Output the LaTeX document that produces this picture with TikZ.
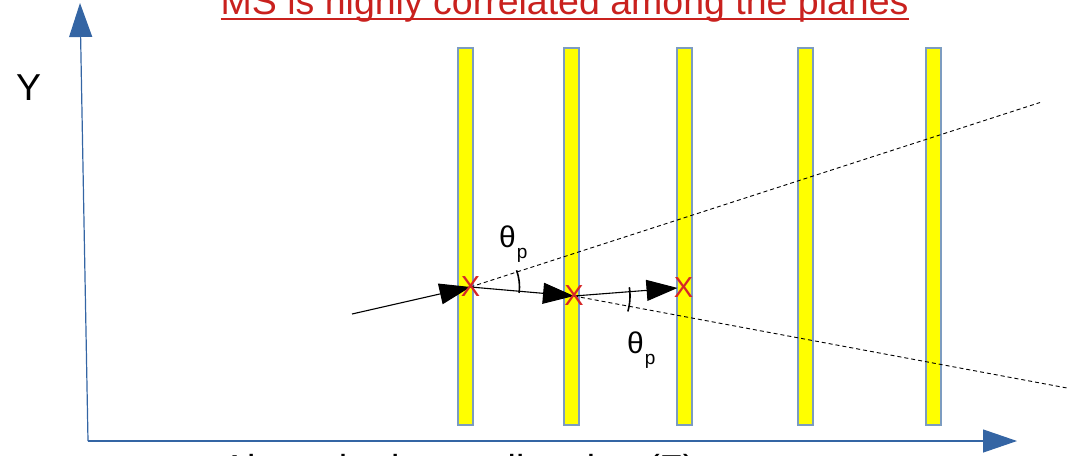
\documentclass[tikz,border=0pt]{standalone}
\usepackage{fontspec}
\setmainfont{Liberation Sans}
\usetikzlibrary{arrows.meta}
\definecolor{axisblue}{HTML}{3465A4}
\definecolor{titlered}{HTML}{C9211E}
\definecolor{planeedge}{HTML}{7C9CC0}
\definecolor{planefill}{HTML}{FFFF00}
\definecolor{hitred}{HTML}{D62728}
\begin{document}
\begin{tikzpicture}[x=1pt,y=-1pt,
  plane/.style={draw=planeedge, fill=planefill, line width=1.1pt,
    minimum width=15pt, minimum height=377pt, inner sep=0pt, outer sep=0pt},
  axisline/.style={draw=axisblue, line width=1.2pt,
    -{Triangle[length=34pt,width=23pt]}},
  track/.style={draw=black, line width=1.1pt},
  trackarrow/.style={track, -{Triangle[length=31pt,width=21pt]}},
  extline/.style={draw=black, line width=0.9pt, dash pattern=on 4pt off 3pt},
  anglearc/.style={draw=black, line width=1.6pt},
  hit/.style={text=hitred, inner sep=0pt, font=\fontsize{29}{30}\selectfont},
  bigtext/.style={inner sep=0pt, anchor=base west, font=\fontsize{37.5}{40}\selectfont},
  anglelabel/.style={inner sep=0pt, anchor=base west, font=\fontsize{30}{32}\selectfont}
]
\useasboundingbox (0,0) rectangle (1067,455);

% title
\node[bigtext, text=titlered] (title) at (220.5,14) {MS is highly correlated among the planes};
\draw[titlered, line width=2.6pt] ([yshift=-4.8pt]title.base west) -- ([yshift=-4.8pt]title.base east);

% axes
\coordinate (O) at (88,441);
\coordinate (Ytip) at (80,3);
\coordinate (Xtip) at (1017,441);
\draw[axisline] (O) -- (Ytip);
\draw[axisline] (O) -- (Xtip);
\node[bigtext] (ylabel) at (16,100) {Y};
\node[bigtext] (xlabel) at (222,481) {Along the beam direction (Z)};

% planes
\node[plane] (P1) at (465.5,236.5) {};
\node[plane] (P2) at (571.5,236.5) {};
\node[plane] (P3) at (684.5,236.5) {};
\node[plane] (P4) at (805.5,236.5) {};
\node[plane] (P5) at (933.5,236.5) {};

% track points
\coordinate (start) at (352,314);
\coordinate (h1) at (470.5,287);
\coordinate (h2) at (574,296);
\coordinate (h3) at (683.5,287.5);
\coordinate (up) at (1040,102.5);
\coordinate (down) at (1067,388);

% extrapolations
\draw[extline] (h1) -- (up);
\draw[extline] (h2) -- (down);

% track
\draw[trackarrow] (start) -- (h1);
\draw[trackarrow] (h1) -- (h2);
\draw[trackarrow, shorten >=6pt] (h2) -- (h3);

% angle arcs
\draw[anglearc] (h1) ++(-20:49) arc[start angle=-20, end angle=7, radius=49];
\draw[anglearc] (h2) ++(-9:56) arc[start angle=-9, end angle=16, radius=56];

% hits
\node[hit] (x1) at (h1) {X};
\node[hit] (x2) at (h2) {X};
\node[hit] (x3) at (h3) {X};

% angle labels
\node[anglelabel] (th1) at (499,247) {θ\kern1pt\raisebox{-11pt}{\fontsize{19}{20}\selectfont p}};
\node[anglelabel] (th2) at (627,353) {θ\kern1pt\raisebox{-11pt}{\fontsize{19}{20}\selectfont p}};
\end{tikzpicture}
\end{document}
